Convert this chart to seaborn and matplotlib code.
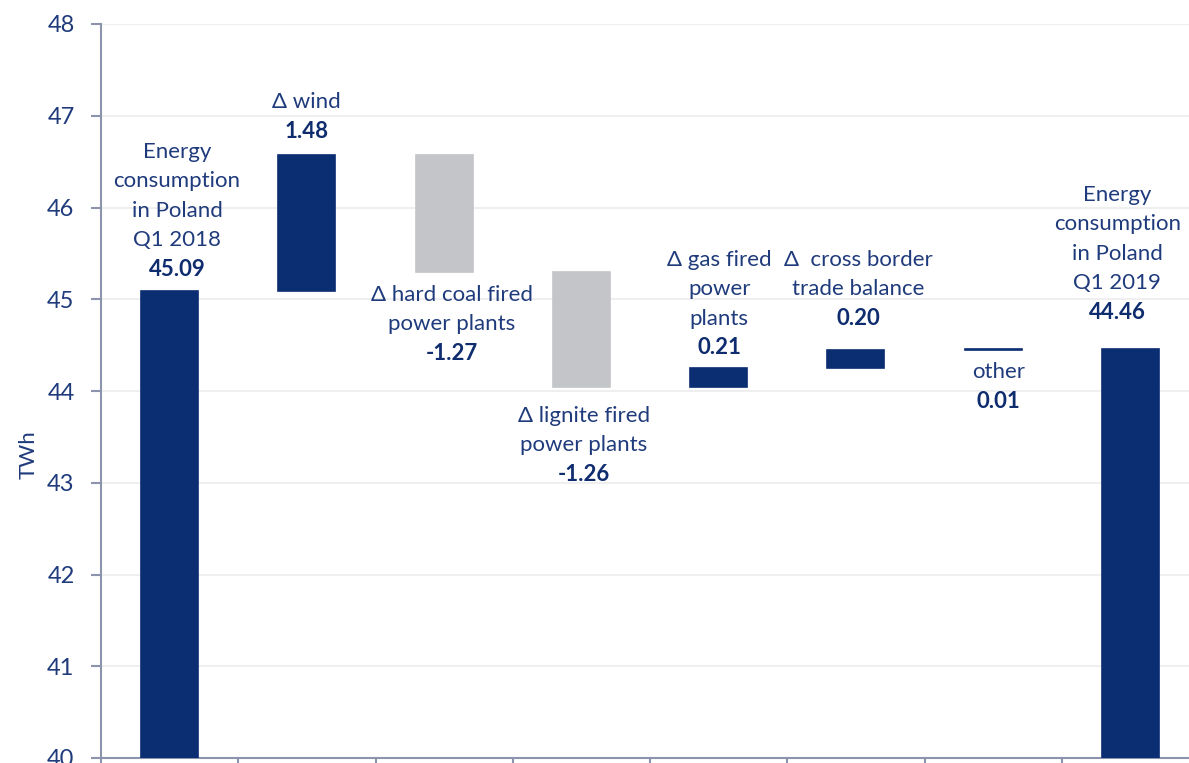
import numpy as np
import pandas as pd
import matplotlib
matplotlib.use("Agg")
import matplotlib.pyplot as plt
import seaborn as sns

# ---- data ----
categories = ["Q1 2018", "wind", "hard coal", "lignite", "gas", "cross border", "other", "Q1 2019"]
start_value = 45.09
deltas = [1.48, -1.27, -1.26, 0.21, 0.20, 0.01]
end_value = 44.46
labels = [
    ["Energy", "consumption", "in Poland", "Q1 2018"],
    ["Δ wind"],
    ["Δ hard coal fired", "power plants"],
    ["Δ lignite fired", "power plants"],
    ["Δ gas fired", "power", "plants"],
    ["Δ  cross border", "trade balance"],
    ["other"],
    ["Energy", "consumption", "in Poland", "Q1 2019"],
]
value_texts = ["45.09", "1.48", "-1.27", "-1.26", "0.21", "0.20", "0.01", "44.46"]
yticks = [40, 41, 42, 43, 44, 45, 46, 47, 48]

# ---- derived waterfall geometry ----
bottoms, heights = [0.0], [start_value]
level = start_value
for d in deltas:
    bottoms.append(min(level, level + d))
    heights.append(abs(d))
    level += d
bottoms.append(0.0)
heights.append(end_value)

NAVY = "#0b2e73"
GREY = "#c4c5c9"
TXT = "#1f3b7c"
BOLD = "#0e2c6e"
colors = [NAVY if (i in (0, 7) or deltas[i - 1] > 0) else GREY for i in range(8)]

df = pd.DataFrame({"cat": categories, "height": heights, "bottom": bottoms})

sns.set_style("white")
plt.rcParams["font.family"] = ["Lato", "DejaVu Sans"]

fig = plt.figure(figsize=(11.89, 7.63), dpi=100)
ax = fig.add_axes([101 / 1189, 1 - 758 / 763, 1098 / 1189, 734 / 763])

sns.barplot(data=df, x="cat", y="height", color=NAVY,
            bottom=df["bottom"].values, width=0.415, ax=ax, zorder=3,
            saturation=1, linewidth=0)
for patch, c in zip(ax.patches, colors):
    patch.set_facecolor(c)
    patch.set_edgecolor(c)
    patch.set_linewidth(1.2)

ax.set_ylim(40, 48)
ax.set_xlim(-0.5, 7.5)
ax.set_yticks(yticks)
ax.set_yticklabels([str(t) for t in yticks], color=TXT, fontsize=17)
ax.yaxis.grid(True, color="#efefef", linewidth=1.5, zorder=0)
ax.set_axisbelow(True)

ax.set_xticks(np.arange(-0.5, 8.0, 1.0))
ax.set_xticklabels([])
ax.set_xlabel("")
ax.set_ylabel("TWh", color=TXT, fontsize=16)
ax.yaxis.set_label_coords(-0.057, 0.413)

spine_c = "#8c93ad"
for s in ["top", "right"]:
    ax.spines[s].set_visible(False)
for s in ["left", "bottom"]:
    ax.spines[s].set_color(spine_c)
    ax.spines[s].set_linewidth(1.5)
ax.tick_params(axis="both", which="both", direction="out", length=7, width=1.5,
               color=spine_c, left=True, bottom=True)
ax.tick_params(axis="y", pad=12)

# ---- annotations ----
text_x = [0.054, 1.0, 2.058, 3.02, 4.004, 5.017, 6.038, 6.905]
first_line_y = [46.605, 47.15, 45.046, 43.728, 45.428, 45.428, 44.207, 46.136]
step = 0.3193
for i in range(8):
    y = first_line_y[i]
    for line in labels[i]:
        ax.text(text_x[i], y, line, ha="center", va="center", color=TXT, fontsize=16, zorder=5)
        y -= step
    ax.text(text_x[i], y, value_texts[i], ha="center", va="center", color=BOLD,
            fontsize=16, fontweight="bold", zorder=5)

fig.savefig("out.png", dpi=100)
